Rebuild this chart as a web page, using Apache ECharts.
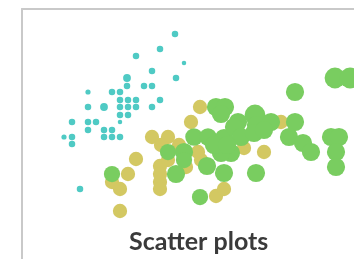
<!DOCTYPE html>
<html>
<head>
  <meta charset="utf-8">
  <title>Scatter plots</title>
  <script src="https://cdn.jsdelivr.net/npm/echarts@6/dist/echarts.min.js"></script>
  <style>
    html, body { margin: 0; padding: 0; background: #fff; }
    #chart { width: 354px; height: 259px; }
  </style>
</head>
<body>
<div id="chart"></div>
<script>
  // [x, y, weight] -- weight drives the bubble size
  var smallGroup = [
    [153, 225, 1], [138, 210, 1], [162, 196, 0.7], [114, 203, 1], [130, 188, 1],
    [154, 181, 1], [105, 181, 1.2], [105, 173, 1], [122, 173, 1], [130, 173, 1],
    [66, 167, 0.8], [90, 167, 1], [98, 167, 1], [98, 159, 1], [106, 159, 1],
    [114, 159, 1], [138, 159, 1], [66, 152, 1], [82, 152, 1.2], [98, 152, 1],
    [106, 152, 1], [114, 152, 1], [130, 152, 1], [98, 144, 1], [106, 144, 1],
    [98, 137, 0.7], [50, 137, 1], [66, 137, 1], [74, 137, 1], [66, 129, 1],
    [82, 129, 1], [90, 129, 1], [42, 122, 0.8], [50, 122, 1], [82, 122, 1],
    [90, 122, 1], [98, 122, 1], [50, 115, 1], [58, 70, 1]
  ];
  var midGroup = [
    [130, 122, 2.2], [146, 122, 2.2], [139, 114, 2.2], [157, 114, 2.2], [114, 100, 2.2],
    [106, 85, 2.2], [90, 77, 2.2], [98, 70, 2.2], [98, 48, 2.2], [138, 93, 2.2],
    [138, 85, 2.2], [138, 77, 2.2], [138, 70, 2.2], [146, 99, 2.2], [164, 92, 2.2],
    [179, 99, 2.2], [176, 107, 2.2], [194, 63, 2.2], [202, 70, 2.2], [178, 152, 2.2],
    [169, 137, 2.2], [242, 107, 2.2], [222, 111, 2.2], [259, 137, 2.2]
  ];
  var bigGroup = [
    [313, 181, 3.2], [328, 181, 3.2], [273, 167, 2.8], [194, 152, 2.8], [203, 152, 2.8],
    [199, 145, 2.8], [216, 137, 2.8], [233, 144, 3.2], [234, 134, 2.8], [249, 137, 2.8],
    [273, 137, 2.8], [172, 122, 2.7], [186, 122, 2.7], [202, 121, 2.8], [212, 132, 2.8],
    [219, 122, 2.8], [232, 126, 2.8], [242, 129, 2.8], [267, 122, 2.8], [281, 116, 2.8],
    [289, 107, 2.8], [309, 122, 2.8], [317, 122, 2.8], [314, 107, 2.8], [314, 92, 2.8],
    [209, 106, 2.8], [202, 86, 2.8], [234, 86, 2.8], [185, 93, 2.8], [178, 62, 2.5],
    [146, 107, 2.5], [162, 107, 2.8], [162, 99, 2.5], [154, 85, 2.8], [199, 106, 2.8],
    [90, 85, 2.5], [192, 114, 2.8], [205, 114, 2.8]
  ];
  var chartTitle = 'Scatter plots';

  var myChart = echarts.init(document.getElementById('chart'));

  function sizeOf(val) {
    return val[2] * 6.5;
  }

  var option = {
    animation: false,
    title: {
      text: chartTitle,
      left: 124,
      top: 224,
      textStyle: {
        fontFamily: 'Lato',
        fontSize: 25,
        fontWeight: 'bold',
        color: '#3a3a3a'
      }
    },
    grid: {
      left: 22,
      top: 9,
      right: 0,
      bottom: 0
    },
    xAxis: {
      type: 'value',
      position: 'top',
      min: 0,
      max: 332,
      axisLine: { show: true, onZero: false, lineStyle: { color: '#c9c9c9', width: 2 } },
      axisTick: { show: false },
      axisLabel: { show: false },
      splitLine: { show: false }
    },
    yAxis: {
      type: 'value',
      min: 0,
      max: 250,
      axisLine: { show: true, onZero: false, lineStyle: { color: '#c9c9c9', width: 2 } },
      axisTick: { show: false },
      axisLabel: { show: false },
      splitLine: { show: false }
    },
    series: [
      {
        name: 'small',
        type: 'scatter',
        data: smallGroup,
        symbolSize: sizeOf,
        itemStyle: { color: '#4fcac4', opacity: 1 }
      },
      {
        name: 'mid',
        type: 'scatter',
        data: midGroup,
        symbolSize: sizeOf,
        itemStyle: { color: '#d3c862', opacity: 1 }
      },
      {
        name: 'big',
        type: 'scatter',
        data: bigGroup,
        symbolSize: sizeOf,
        itemStyle: { color: '#79cd60', opacity: 1 }
      }
    ]
  };
  myChart.setOption(option);
</script>
</body>
</html>
